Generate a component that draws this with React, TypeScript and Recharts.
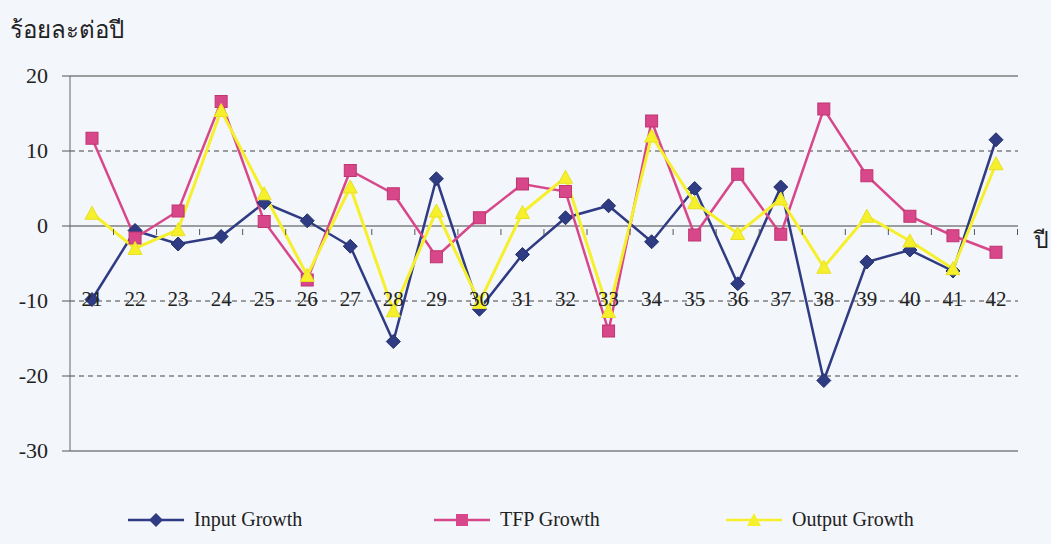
import { LineChart, Line, XAxis, YAxis, ReferenceLine } from 'recharts';

const YEARS = ['21', '22', '23', '24', '25', '26', '27', '28', '29', '30', '31', '32', '33', '34', '35', '36', '37', '38', '39', '40', '41', '42'];
const INPUT_GROWTH = [-9.8, -0.6, -2.4, -1.4, 3.1, 0.7, -2.7, -15.4, 6.3, -11.1, -3.8, 1.1, 2.7, -2.1, 5.0, -7.7, 5.2, -20.6, -4.8, -3.2, -6.0, 11.5];
const TFP_GROWTH = [11.7, -1.6, 2.0, 16.6, 0.6, -7.2, 7.4, 4.3, -4.1, 1.1, 5.6, 4.6, -14.0, 14.0, -1.2, 6.9, -1.1, 15.6, 6.7, 1.3, -1.3, -3.5];
const OUTPUT_GROWTH = [1.7, -3.0, -0.5, 15.4, 4.3, -6.6, 5.2, -11.3, 2.0, -10.2, 1.8, 6.5, -11.4, 12.0, 3.1, -1.0, 3.6, -5.5, 1.3, -2.0, -5.7, 8.3];
const Y_TICKS = [-30, -20, -10, 0, 10, 20];

const data = YEARS.map((year, i) => ({
  year,
  input: INPUT_GROWTH[i],
  tfp: TFP_GROWTH[i],
  output: OUTPUT_GROWTH[i],
}));

const BLUE = '#2f3b82';
const PINK = '#d8478a';
const YELLOW = '#f6f02c';
const SERIF = '"Liberation Serif", "Times New Roman", serif';

const Diamond = ({ cx, cy }: any) =>
  cx == null ? null : (
    <path d={`M${cx},${cy - 7} L${cx + 7},${cy} L${cx},${cy + 7} L${cx - 7},${cy} Z`} fill={BLUE} stroke="#23306a" strokeWidth={1} />
  );

const Square = ({ cx, cy }: any) =>
  cx == null ? null : <rect x={cx - 6} y={cy - 6} width={12} height={12} fill={PINK} stroke="#c03572" strokeWidth={1} />;

const Triangle = ({ cx, cy }: any) =>
  cx == null ? null : (
    <path d={`M${cx},${cy - 7} L${cx + 7},${cy + 6} L${cx - 7},${cy + 6} Z`} fill={YELLOW} stroke="#e8e020" strokeWidth={1} />
  );

// year labels sit just above the -10 gridline, with small category ticks on the zero line
const YearTick = ({ x, y, payload }: any) => (
  <g>
    <line x1={x + 21.5} x2={x + 21.5} y1={y - 230} y2={y - 224} stroke="#555" strokeWidth={1} />
    <text x={x} y={y - 153} textAnchor="middle" fontFamily={SERIF} fontSize={21} fill="#222">
      {payload.value}
    </text>
  </g>
);

const ValueTick = ({ x, y, payload }: any) => (
  <text x={x - 12} y={y} dy={7} textAnchor="end" fontFamily={SERIF} fontSize={22} fill="#222">
    {payload.value}
  </text>
);

const LegendItem = ({ label, color, shape, left }: any) => (
  <div style={{ position: 'absolute', left, top: 508, display: 'flex', alignItems: 'center' }}>
    <svg width={60} height={20}>
      <line x1={2} x2={58} y1={10} y2={10} stroke={color} strokeWidth={2.5} />
      {shape === 'diamond' && <path d="M30,3 L37,10 L30,17 L23,10 Z" fill={BLUE} />}
      {shape === 'square' && <rect x={24} y={4} width={12} height={12} fill={PINK} />}
      {shape === 'triangle' && <path d="M30,3 L37,16 L23,16 Z" fill={YELLOW} />}
    </svg>
    <span style={{ fontFamily: SERIF, fontSize: 20, color: '#222', marginLeft: 8 }}>{label}</span>
  </div>
);

export default function App() {
  return (
    <div style={{ position: 'absolute', left: 0, top: 0, width: 1051, height: 544, background: '#f3f6fb', overflow: 'hidden' }}>
      <div style={{ position: 'absolute', left: 10, top: 10, fontFamily: SERIF, fontSize: 24, color: '#222' }}>ร้อยละต่อปี</div>
      <div style={{ position: 'absolute', left: 1034, top: 222, fontFamily: SERIF, fontSize: 23, color: '#222' }}>ปี</div>
      <LineChart width={1051} height={490} data={data} margin={{ top: 76, right: 33, bottom: 0, left: 8 }}>
        <XAxis
          dataKey="year"
          axisLine={false}
          tickLine={false}
          height={39}
          interval={0}
          padding={{ left: 22, right: 22 }}
          tick={<YearTick />}
        />
        <YAxis
          domain={[-30, 20]}
          ticks={Y_TICKS}
          width={62}
          axisLine={{ stroke: '#666', strokeWidth: 1 }}
          tickLine={{ stroke: '#555' }}
          tickSize={8}
          tick={<ValueTick />}
        />
        <YAxis yAxisId="r" orientation="right" width={0} tick={false} tickLine={false} axisLine={{ stroke: '#777' }} />
        <ReferenceLine y={20} stroke="#444" strokeWidth={1.2} />
        <ReferenceLine y={10} stroke="#444" strokeDasharray="5 4" />
        <ReferenceLine y={0} stroke="#444" strokeWidth={1.2} />
        <ReferenceLine y={-10} stroke="#444" strokeDasharray="5 4" />
        <ReferenceLine y={-20} stroke="#444" strokeDasharray="5 4" />
        <ReferenceLine y={-30} stroke="#444" strokeWidth={1.2} />
        <Line dataKey="input" stroke={BLUE} strokeWidth={2.5} dot={<Diamond />} isAnimationActive={false} />
        <Line dataKey="tfp" stroke={PINK} strokeWidth={2.5} dot={<Square />} isAnimationActive={false} />
        <Line dataKey="output" stroke={YELLOW} strokeWidth={3} dot={<Triangle />} isAnimationActive={false} />
      </LineChart>
      <LegendItem label="Input Growth" color={BLUE} shape="diamond" left={126} />
      <LegendItem label="TFP Growth" color={PINK} shape="square" left={432} />
      <LegendItem label="Output Growth" color={YELLOW} shape="triangle" left={724} />
    </div>
  );
}
